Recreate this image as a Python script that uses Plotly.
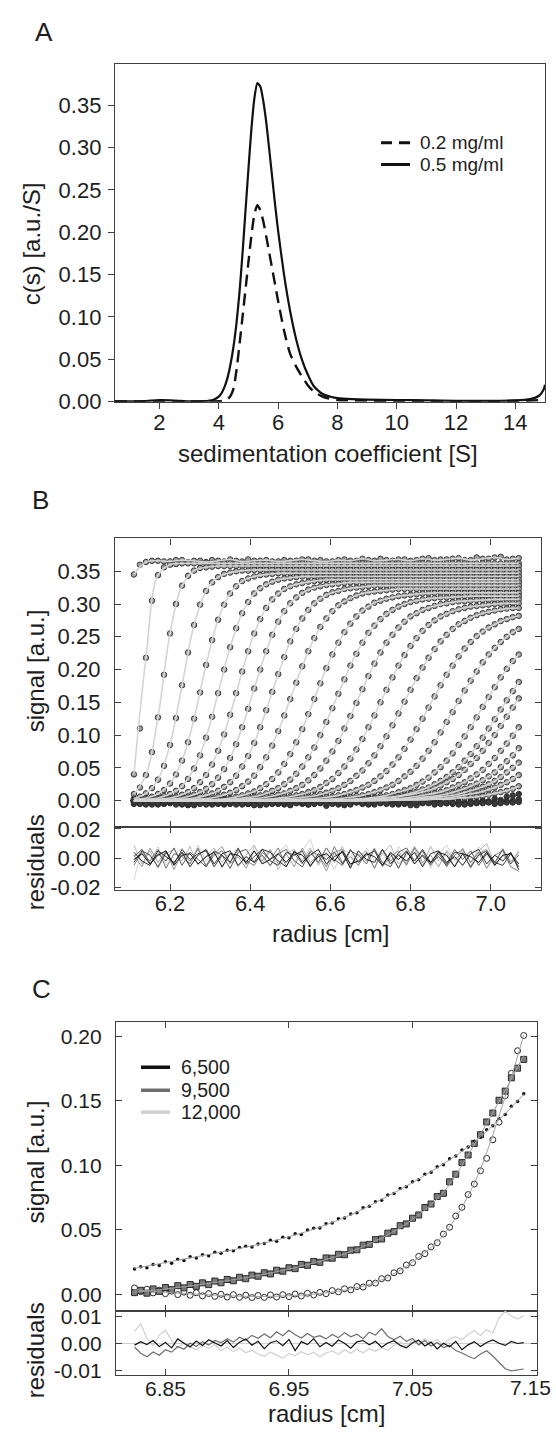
import plotly.graph_objects as go

W, H = 556, 1448
FONT = "Liberation Sans, Arial, Helvetica, sans-serif"
INK = "#1e1e1e"
AXC = "#404040"

#%% Panel A: c(s) distributions
s_value = [0.5, 1.0, 1.5, 2.0, 2.5, 3.0, 3.5, 3.8, 4.0, 4.1, 4.2, 4.3, 4.4, 4.5, 4.6, 4.7,
           4.8, 4.9, 5.0, 5.1, 5.2, 5.3, 5.4, 5.5, 5.6, 5.7, 5.8, 5.9, 6.0, 6.2, 6.4, 6.6,
           6.8, 7.0, 7.2, 7.5, 7.8, 8.0, 8.5, 9.0, 10.0, 11.0, 12.0, 13.0, 14.0, 14.5, 14.8,
           14.95, 15.0]
cs_02mg = [0.0003, 0.0003, 0.0004, 0.0008, 0.0006, 0.0002, 0.0002, 0.0003, 0.0005, 0.0008,
           0.0015, 0.0030, 0.0070, 0.0160, 0.0380, 0.0680, 0.1000, 0.1320, 0.1650, 0.1960,
           0.2210, 0.2320, 0.2260, 0.2130, 0.1950, 0.1760, 0.1570, 0.1380, 0.1190, 0.0840,
           0.0570, 0.0420, 0.0300, 0.0195, 0.0120, 0.0060, 0.0030, 0.0020, 0.0015, 0.0012,
           0.0010, 0.0008, 0.0006, 0.0006, 0.0008, 0.0012, 0.0020, 0.0030, 0.0035]
cs_05mg = [0.0005, 0.0005, 0.0008, 0.0018, 0.0014, 0.0004, 0.0006, 0.0020, 0.0060, 0.0105,
           0.0180, 0.0290, 0.0450, 0.0660, 0.0940, 0.1300, 0.1750, 0.2250, 0.2750, 0.3220,
           0.3580, 0.3760, 0.3720, 0.3550, 0.3300, 0.2980, 0.2650, 0.2320, 0.2020, 0.1500,
           0.1080, 0.0750, 0.0500, 0.0320, 0.0185, 0.0090, 0.0055, 0.0042, 0.0030, 0.0025,
           0.0020, 0.0015, 0.0010, 0.0010, 0.0015, 0.0030, 0.0070, 0.0140, 0.0200]

#%% Panel B: sedimentation velocity scans (signal vs radius)
radius_b = [6.11, 6.14, 6.17, 6.20, 6.23, 6.26, 6.29, 6.32, 6.35, 6.38, 6.41,
            6.44, 6.47, 6.50, 6.53, 6.56, 6.59, 6.62, 6.65, 6.68, 6.71, 6.74,
            6.77, 6.80, 6.83, 6.86, 6.89, 6.92, 6.95, 6.98, 7.01, 7.04, 7.07]
scan_signal = [
    [0.345, 0.364, 0.366, 0.365, 0.367, 0.366, 0.364, 0.366, 0.368, 0.365, 0.366,
     0.367, 0.365, 0.366, 0.368, 0.366, 0.365, 0.367, 0.366, 0.369, 0.366, 0.367,
     0.368, 0.366, 0.369, 0.367, 0.368, 0.370, 0.367, 0.369, 0.371, 0.368, 0.370],
    [0.040, 0.218, 0.344, 0.360, 0.362, 0.362, 0.362, 0.362, 0.362, 0.362, 0.362,
     0.362, 0.362, 0.362, 0.362, 0.362, 0.362, 0.362, 0.362, 0.362, 0.362, 0.362,
     0.362, 0.362, 0.362, 0.362, 0.362, 0.362, 0.362, 0.362, 0.362, 0.362, 0.362],
    [0.010, 0.039, 0.127, 0.255, 0.328, 0.351, 0.356, 0.358, 0.358, 0.358, 0.358,
     0.358, 0.358, 0.358, 0.358, 0.358, 0.358, 0.358, 0.358, 0.358, 0.358, 0.358,
     0.358, 0.358, 0.358, 0.358, 0.358, 0.358, 0.358, 0.358, 0.358, 0.358, 0.358],
    [0.003, 0.011, 0.032, 0.085, 0.176, 0.268, 0.320, 0.341, 0.348, 0.351, 0.352,
     0.352, 0.352, 0.352, 0.352, 0.352, 0.352, 0.352, 0.352, 0.352, 0.352, 0.352,
     0.352, 0.352, 0.352, 0.352, 0.352, 0.352, 0.352, 0.352, 0.352, 0.352, 0.352],
    [0.002, 0.004, 0.010, 0.026, 0.061, 0.125, 0.207, 0.276, 0.316, 0.335, 0.342,
     0.345, 0.347, 0.347, 0.347, 0.347, 0.347, 0.347, 0.347, 0.347, 0.347, 0.347,
     0.347, 0.347, 0.347, 0.347, 0.347, 0.347, 0.347, 0.347, 0.347, 0.347, 0.347],
    [0.001, 0.002, 0.004, 0.010, 0.022, 0.049, 0.096, 0.164, 0.234, 0.286, 0.316,
     0.330, 0.337, 0.340, 0.342, 0.342, 0.342, 0.342, 0.342, 0.342, 0.342, 0.342,
     0.342, 0.342, 0.342, 0.342, 0.342, 0.342, 0.342, 0.342, 0.342, 0.342, 0.342],
    [0, 0.001, 0.002, 0.004, 0.009, 0.019, 0.039, 0.076, 0.131, 0.197, 0.255,
     0.294, 0.316, 0.327, 0.332, 0.335, 0.337, 0.337, 0.337, 0.337, 0.337, 0.337,
     0.337, 0.337, 0.337, 0.337, 0.337, 0.337, 0.337, 0.337, 0.337, 0.337, 0.337],
    [0, 0, 0.001, 0.002, 0.004, 0.009, 0.018, 0.035, 0.065, 0.112, 0.171,
     0.228, 0.273, 0.301, 0.317, 0.325, 0.329, 0.331, 0.333, 0.333, 0.333, 0.333,
     0.333, 0.333, 0.333, 0.333, 0.333, 0.333, 0.333, 0.333, 0.333, 0.333, 0.333],
    [0, 0, 0.001, 0.001, 0.002, 0.004, 0.008, 0.015, 0.028, 0.052, 0.088,
     0.138, 0.193, 0.243, 0.278, 0.301, 0.314, 0.320, 0.324, 0.326, 0.328, 0.328,
     0.328, 0.328, 0.328, 0.328, 0.328, 0.328, 0.328, 0.328, 0.328, 0.328, 0.328],
    [0, 0, 0, 0, 0.001, 0.002, 0.003, 0.006, 0.012, 0.022, 0.038,
     0.066, 0.106, 0.155, 0.205, 0.248, 0.278, 0.298, 0.309, 0.316, 0.319, 0.321,
     0.323, 0.323, 0.323, 0.323, 0.323, 0.323, 0.323, 0.323, 0.323, 0.323, 0.323],
    [0, 0, 0, 0, 0, 0.001, 0.001, 0.002, 0.004, 0.008, 0.014,
     0.025, 0.043, 0.071, 0.109, 0.155, 0.202, 0.241, 0.270, 0.290, 0.302, 0.308,
     0.312, 0.314, 0.316, 0.317, 0.317, 0.317, 0.317, 0.317, 0.317, 0.317, 0.317],
    [0, 0, 0, 0, 0, 0, 0.001, 0.001, 0.002, 0.004, 0.006,
     0.011, 0.019, 0.032, 0.052, 0.081, 0.120, 0.163, 0.206, 0.241, 0.267, 0.285,
     0.296, 0.303, 0.307, 0.309, 0.310, 0.311, 0.312, 0.312, 0.312, 0.312, 0.312],
    [0, 0, 0, 0, 0, 0, 0, 0.001, 0.001, 0.002, 0.003,
     0.005, 0.009, 0.015, 0.024, 0.039, 0.061, 0.091, 0.129, 0.170, 0.209, 0.241,
     0.264, 0.281, 0.291, 0.297, 0.301, 0.304, 0.305, 0.306, 0.307, 0.307, 0.307],
    [0, 0, 0, 0, 0, 0, 0, 0, 0, 0.001, 0.001,
     0.002, 0.004, 0.006, 0.010, 0.016, 0.027, 0.042, 0.064, 0.094, 0.130, 0.169,
     0.206, 0.236, 0.259, 0.275, 0.285, 0.292, 0.296, 0.298, 0.300, 0.301, 0.301],
    [0, 0, 0, 0, 0, 0, 0, 0, 0, 0, 0.001,
     0.001, 0.002, 0.003, 0.005, 0.007, 0.012, 0.019, 0.030, 0.046, 0.069, 0.098,
     0.133, 0.169, 0.203, 0.231, 0.253, 0.269, 0.279, 0.286, 0.290, 0.293, 0.294],
    [0, 0, 0, 0, 0, 0, 0, 0, 0, 0, 0,
     0, 0.001, 0.001, 0.002, 0.003, 0.005, 0.008, 0.013, 0.020, 0.030, 0.045,
     0.066, 0.093, 0.125, 0.159, 0.192, 0.220, 0.242, 0.258, 0.269, 0.277, 0.282],
    [0, 0, 0, 0, 0, 0, 0, 0, 0, 0, 0,
     0, 0, 0.001, 0.001, 0.001, 0.002, 0.003, 0.005, 0.008, 0.013, 0.020,
     0.030, 0.044, 0.064, 0.089, 0.120, 0.152, 0.183, 0.211, 0.233, 0.250, 0.262],
    [0, 0, 0, 0, 0, 0, 0, 0, 0, 0, 0,
     0, 0, 0, 0, 0.001, 0.001, 0.001, 0.002, 0.003, 0.005, 0.008,
     0.013, 0.019, 0.029, 0.043, 0.061, 0.085, 0.112, 0.143, 0.173, 0.201, 0.223],
    [0, 0, 0, 0, 0, 0, 0, 0, 0, 0, 0,
     0, 0, 0, 0, 0, 0.001, 0.001, 0.001, 0.002, 0.003, 0.005,
     0.007, 0.011, 0.017, 0.025, 0.036, 0.051, 0.071, 0.096, 0.124, 0.153, 0.181],
    [0, 0, 0, 0, 0, 0, 0, 0, 0, 0, 0,
     0, 0, 0, 0, 0, 0, 0, 0.001, 0.002, 0.003, 0.004,
     0.006, 0.009, 0.013, 0.019, 0.028, 0.039, 0.056, 0.076, 0.100, 0.128, 0.156],
    [0, 0, 0, 0, 0, 0, 0, 0, 0, 0, 0,
     0, 0, 0, 0, 0, 0, 0, 0.001, 0.001, 0.002, 0.002,
     0.003, 0.005, 0.008, 0.011, 0.016, 0.024, 0.034, 0.047, 0.065, 0.087, 0.112],
    [0, 0, 0, 0, 0, 0, 0, 0, 0, 0, 0,
     0, 0, 0, 0, 0, 0, 0, 0, 0, 0.001, 0.001,
     0.002, 0.003, 0.005, 0.007, 0.010, 0.015, 0.022, 0.031, 0.043, 0.060, 0.080],
    [0, 0, 0, 0, 0, 0, 0, 0, 0, 0, 0,
     0, 0, 0, 0, 0, 0, 0, 0, 0, 0.001, 0.001,
     0.001, 0.002, 0.003, 0.005, 0.007, 0.010, 0.015, 0.021, 0.030, 0.043, 0.058],
    [0, 0, 0, 0, 0, 0, 0, 0, 0, 0, 0,
     0, 0, 0, 0, 0, 0, 0, 0, 0, 0, 0.001,
     0.001, 0.001, 0.002, 0.003, 0.004, 0.007, 0.010, 0.014, 0.020, 0.028, 0.039],
    [0, 0, 0, 0, 0, 0, 0, 0, 0, 0, 0,
     0, 0, 0, 0, 0, 0, 0, 0, 0, 0, 0,
     0.001, 0.001, 0.001, 0.002, 0.002, 0.004, 0.005, 0.007, 0.011, 0.015, 0.022],
    [-0.003, -0.005, -0.002, -0.004, -0.006, -0.003, -0.001, -0.004, -0.005, -0.002, -0.003,
     -0.006, -0.004, -0.002, -0.005, -0.003, -0.008, -0.004, -0.002, -0.005, -0.003, -0.004,
     -0.006, -0.002, -0.003, -0.002, -0.004, -0.002, -0.001, 0.000, 0.003, 0.006, 0.010],
    [-0.005, -0.002, -0.006, -0.003, -0.004, -0.007, -0.002, -0.005, -0.003, -0.006, -0.004,
     -0.002, -0.005, -0.007, -0.003, -0.004, -0.002, -0.006, -0.005, -0.003, -0.006, -0.002,
     -0.004, -0.005, -0.003, -0.006, -0.004, -0.003, -0.005, -0.002, -0.003, -0.001, 0.002],
    [-0.002, -0.006, -0.004, -0.001, -0.005, -0.003, -0.006, -0.004, -0.002, -0.005, -0.007,
     -0.003, -0.004, -0.006, -0.002, -0.005, -0.004, -0.003, -0.006, -0.004, -0.002, -0.005,
     -0.003, -0.007, -0.004, -0.005, -0.002, -0.006, -0.003, -0.004, -0.005, -0.003, -0.002],
]
# the same scans read at the radii half-way between the points above
radius_b_mid = [6.125, 6.155, 6.185, 6.215, 6.245, 6.275, 6.305, 6.335,
                6.365, 6.395, 6.425, 6.455, 6.485, 6.515, 6.545, 6.575,
                6.605, 6.635, 6.665, 6.695, 6.725, 6.755, 6.785, 6.815,
                6.845, 6.875, 6.905, 6.935, 6.965, 6.995, 7.025, 7.055]
scan_signal_mid = [
    [0.360, 0.366, 0.365, 0.367, 0.364, 0.366, 0.367, 0.365,
     0.366, 0.368, 0.366, 0.365, 0.367, 0.366, 0.368, 0.367,
     0.365, 0.368, 0.366, 0.367, 0.369, 0.366, 0.368, 0.367,
     0.370, 0.368, 0.369, 0.367, 0.371, 0.369, 0.372, 0.369],
    [0.110, 0.305, 0.356, 0.361, 0.362, 0.362, 0.362, 0.362,
     0.362, 0.362, 0.362, 0.362, 0.362, 0.362, 0.362, 0.362,
     0.362, 0.362, 0.362, 0.362, 0.362, 0.362, 0.362, 0.362,
     0.362, 0.362, 0.362, 0.362, 0.362, 0.362, 0.362, 0.362],
    [0.020, 0.074, 0.192, 0.300, 0.343, 0.355, 0.357, 0.358,
     0.358, 0.358, 0.358, 0.358, 0.358, 0.358, 0.358, 0.358,
     0.358, 0.358, 0.358, 0.358, 0.358, 0.358, 0.358, 0.358,
     0.358, 0.358, 0.358, 0.358, 0.358, 0.358, 0.358, 0.358],
    [0.006, 0.019, 0.053, 0.126, 0.226, 0.299, 0.333, 0.346,
     0.350, 0.351, 0.352, 0.352, 0.352, 0.352, 0.352, 0.352,
     0.352, 0.352, 0.352, 0.352, 0.352, 0.352, 0.352, 0.352,
     0.352, 0.352, 0.352, 0.352, 0.352, 0.352, 0.352, 0.352],
    [0.002, 0.006, 0.016, 0.040, 0.089, 0.165, 0.245, 0.299,
     0.327, 0.339, 0.344, 0.346, 0.347, 0.347, 0.347, 0.347,
     0.347, 0.347, 0.347, 0.347, 0.347, 0.347, 0.347, 0.347,
     0.347, 0.347, 0.347, 0.347, 0.347, 0.347, 0.347, 0.347],
    [0.001, 0.003, 0.007, 0.015, 0.033, 0.069, 0.128, 0.200,
     0.263, 0.303, 0.324, 0.334, 0.339, 0.341, 0.342, 0.342,
     0.342, 0.342, 0.342, 0.342, 0.342, 0.342, 0.342, 0.342,
     0.342, 0.342, 0.342, 0.342, 0.342, 0.342, 0.342, 0.342],
    [0, 0.001, 0.003, 0.006, 0.013, 0.028, 0.055, 0.101,
     0.164, 0.228, 0.277, 0.307, 0.323, 0.330, 0.334, 0.336,
     0.337, 0.337, 0.337, 0.337, 0.337, 0.337, 0.337, 0.337,
     0.337, 0.337, 0.337, 0.337, 0.337, 0.337, 0.337, 0.337],
    [0, 0, 0.001, 0.003, 0.006, 0.013, 0.025, 0.048,
     0.086, 0.140, 0.200, 0.253, 0.289, 0.310, 0.322, 0.327,
     0.330, 0.332, 0.333, 0.333, 0.333, 0.333, 0.333, 0.333,
     0.333, 0.333, 0.333, 0.333, 0.333, 0.333, 0.333, 0.333],
    [0, 0, 0.001, 0.001, 0.003, 0.006, 0.011, 0.021,
     0.038, 0.068, 0.112, 0.166, 0.219, 0.262, 0.291, 0.308,
     0.318, 0.323, 0.325, 0.327, 0.328, 0.328, 0.328, 0.328,
     0.328, 0.328, 0.328, 0.328, 0.328, 0.328, 0.328, 0.328],
    [0, 0, 0, 0, 0.001, 0.002, 0.005, 0.009,
     0.016, 0.029, 0.051, 0.084, 0.130, 0.180, 0.228, 0.265,
     0.289, 0.304, 0.313, 0.318, 0.320, 0.322, 0.323, 0.323,
     0.323, 0.323, 0.323, 0.323, 0.323, 0.323, 0.323, 0.323],
    [0, 0, 0, 0, 0, 0.001, 0.002, 0.003,
     0.006, 0.011, 0.019, 0.033, 0.056, 0.089, 0.132, 0.179,
     0.223, 0.257, 0.281, 0.296, 0.305, 0.310, 0.313, 0.315,
     0.316, 0.317, 0.317, 0.317, 0.317, 0.317, 0.317, 0.317],
    [0, 0, 0, 0, 0, 0, 0.001, 0.002,
     0.003, 0.005, 0.008, 0.015, 0.025, 0.041, 0.066, 0.100,
     0.141, 0.185, 0.224, 0.256, 0.277, 0.291, 0.300, 0.305,
     0.308, 0.310, 0.311, 0.312, 0.312, 0.312, 0.312, 0.312],
    [0, 0, 0, 0, 0, 0, 0, 0.001,
     0.001, 0.002, 0.004, 0.007, 0.011, 0.019, 0.031, 0.049,
     0.075, 0.110, 0.149, 0.190, 0.226, 0.253, 0.273, 0.286,
     0.294, 0.300, 0.303, 0.304, 0.306, 0.306, 0.307, 0.307],
    [0, 0, 0, 0, 0, 0, 0, 0,
     0, 0.001, 0.002, 0.003, 0.005, 0.008, 0.013, 0.021,
     0.033, 0.052, 0.078, 0.112, 0.150, 0.188, 0.222, 0.248,
     0.268, 0.281, 0.289, 0.294, 0.297, 0.299, 0.300, 0.301],
    [0, 0, 0, 0, 0, 0, 0, 0,
     0, 0, 0.001, 0.001, 0.002, 0.004, 0.006, 0.010,
     0.015, 0.024, 0.038, 0.057, 0.083, 0.115, 0.151, 0.187,
     0.218, 0.243, 0.262, 0.274, 0.283, 0.288, 0.292, 0.294],
    [0, 0, 0, 0, 0, 0, 0, 0,
     0, 0, 0, 0.001, 0.001, 0.002, 0.003, 0.004,
     0.006, 0.010, 0.016, 0.024, 0.037, 0.055, 0.079, 0.109,
     0.142, 0.176, 0.206, 0.232, 0.251, 0.264, 0.274, 0.280],
    [0, 0, 0, 0, 0, 0, 0, 0,
     0, 0, 0, 0, 0, 0.001, 0.001, 0.002,
     0.003, 0.004, 0.007, 0.010, 0.016, 0.024, 0.037, 0.053,
     0.076, 0.104, 0.135, 0.168, 0.197, 0.223, 0.242, 0.257],
    [0, 0, 0, 0, 0, 0, 0, 0,
     0, 0, 0, 0, 0, 0, 0, 0.001,
     0.001, 0.002, 0.003, 0.004, 0.007, 0.010, 0.016, 0.024,
     0.035, 0.051, 0.072, 0.098, 0.127, 0.158, 0.188, 0.213],
    [0, 0, 0, 0, 0, 0, 0, 0,
     0, 0, 0, 0, 0, 0, 0, 0,
     0.001, 0.001, 0.002, 0.003, 0.004, 0.006, 0.009, 0.014,
     0.020, 0.030, 0.043, 0.061, 0.083, 0.110, 0.139, 0.167],
    [0, 0, 0, 0, 0, 0, 0, 0,
     0, 0, 0, 0, 0, 0, 0, 0,
     0, 0, 0.001, 0.002, 0.003, 0.005, 0.007, 0.011,
     0.016, 0.023, 0.033, 0.047, 0.065, 0.088, 0.114, 0.142],
    [0, 0, 0, 0, 0, 0, 0, 0,
     0, 0, 0, 0, 0, 0, 0, 0,
     0, 0, 0, 0.001, 0.002, 0.003, 0.004, 0.006,
     0.009, 0.013, 0.020, 0.028, 0.040, 0.056, 0.076, 0.099],
    [0, 0, 0, 0, 0, 0, 0, 0,
     0, 0, 0, 0, 0, 0, 0, 0,
     0, 0, 0, 0, 0.001, 0.002, 0.003, 0.004,
     0.006, 0.008, 0.012, 0.018, 0.026, 0.037, 0.051, 0.069],
    [0, 0, 0, 0, 0, 0, 0, 0,
     0, 0, 0, 0, 0, 0, 0, 0,
     0, 0, 0, 0, 0.001, 0.001, 0.002, 0.003,
     0.004, 0.006, 0.008, 0.012, 0.018, 0.025, 0.036, 0.050],
    [0, 0, 0, 0, 0, 0, 0, 0,
     0, 0, 0, 0, 0, 0, 0, 0,
     0, 0, 0, 0, 0, 0.001, 0.001, 0.002,
     0.003, 0.004, 0.005, 0.008, 0.011, 0.017, 0.024, 0.033],
    [0, 0, 0, 0, 0, 0, 0, 0,
     0, 0, 0, 0, 0, 0, 0, 0,
     0, 0, 0, 0, 0, 0, 0.001, 0.001,
     0.001, 0.002, 0.003, 0.004, 0.006, 0.009, 0.013, 0.018],
    [-0.004, -0.002, -0.005, -0.003, -0.007, -0.002, -0.004, -0.006,
     -0.003, -0.005, -0.002, -0.004, -0.006, -0.003, -0.005, -0.002,
     -0.004, -0.007, -0.003, -0.005, -0.002, -0.004, -0.003, -0.006,
     -0.004, -0.002, -0.003, -0.005, -0.002, -0.001, 0.001, 0.008],
    [-0.003, -0.006, -0.004, -0.002, -0.005, -0.003, -0.006, -0.004,
     -0.002, -0.005, -0.007, -0.003, -0.004, -0.002, -0.006, -0.004,
     -0.003, -0.005, -0.002, -0.006, -0.004, -0.003, -0.005, -0.007,
     -0.002, -0.004, -0.005, -0.003, -0.004, -0.002, -0.002, 0.000],
    [-0.005, -0.003, -0.002, -0.006, -0.004, -0.005, -0.003, -0.002,
     -0.006, -0.004, -0.003, -0.005, -0.002, -0.004, -0.006, -0.003,
     -0.005, -0.004, -0.002, -0.005, -0.003, -0.006, -0.004, -0.002,
     -0.003, -0.005, -0.004, -0.006, -0.002, -0.003, -0.004, -0.003],
]
n_fitted_scans = 25  # the last, noisy baseline scans get no fit line

radius_b_res = [6.11, 6.13, 6.15, 6.17, 6.19, 6.21, 6.23, 6.25, 6.27, 6.29, 6.31, 6.33,
                6.35, 6.37, 6.39, 6.41, 6.43, 6.45, 6.47, 6.49, 6.51, 6.53, 6.55, 6.57,
                6.59, 6.61, 6.63, 6.65, 6.67, 6.69, 6.71, 6.73, 6.75, 6.77, 6.79, 6.81,
                6.83, 6.85, 6.87, 6.89, 6.91, 6.93, 6.95, 6.97, 6.99, 7.01, 7.03, 7.05, 7.07]
# residuals in units of 0.001
resid_b_milli = [
    [-15, 6, -3, 8, -5, 2, 7, -4, 9, -2, 5, -7, 3, 6, -5, 8, 1, -6, 4, 9, -3, 5, 13, -4, 2,
     -8, 6, 3, -5, 7, -2, 4, -6, 8, 1, -4, 6, -7, 3, 9, -2, 5, -6, 8, 2, -5, 7, -3, 4],
    [9, -4, 5, -7, 3, 6, -2, 8, -5, 1, 7, -3, 4, -6, 2, 9, -4, 5, -8, 3, 6, -2, 7, -5, 4,
     -3, 8, -6, 1, 5, -7, 3, 9, -4, 2, 6, -5, 8, -2, 4, -6, 7, -3, 5, 10, -4, 6, -2, 3],
    [2, -6, 7, -3, 5, -8, 4, -2, 6, -5, 3, 8, -4, 1, -7, 5, -2, 6, -4, 3, -6, 7, -3, 2, -9,
     4, 6, -5, 3, -2, 7, -6, 1, 5, -4, 8, -3, 2, -6, 5, -1, 4, -7, 3, 6, -5, 2, -4, 5],
    [-5, 4, -2, 6, -7, 3, 1, -4, 7, -6, 2, 5, -3, 6, -2, -5, 4, -1, 7, -6, 3, -4, 5, 2, -6,
     8, -3, 1, -5, 4, -7, 6, -2, 3, -5, 7, 1, -4, 5, -6, 2, 6, -3, 4, -7, 2, 5, -6, -9],
    [1, 6, -4, 3, -2, 7, -5, 4, -1, -6, 5, 2, -7, 4, 6, -3, 2, -5, 3, 6, -2, -6, 4, -3, 7,
     -1, -5, 5, 2, -4, 6, -3, -6, 4, 7, -2, 5, -5, 3, -4, 6, -1, 5, -5, 3, -3, 6, -4, 2],
    [-3, 5, 2, -6, 4, -4, 6, -1, 3, 5, -6, 2, -3, 7, -4, 1, 6, -2, -5, 4, 2, 5, -6, 3, -1,
     4, -4, 6, -3, 2, 5, -5, 3, -7, 4, -2, 6, -3, 1, -5, 4, 3, -6, 2, 5, -3, -5, 3, -6],
    [4, -2, -5, 5, 1, -3, 4, -6, 2, 6, -4, 3, 5, -5, 1, -3, 6, 4, -2, -6, 5, -3, 2, 6, -4,
     1, 4, -7, 5, -1, -3, 6, -4, 2, -2, 4, -6, 3, 5, -3, 1, -5, 3, 6, -4, 2, -2, 4, -8],
    [-1, 3, -4, 2, 5, -5, 2, 3, -4, 1, 4, -6, 3, 2, -3, 5, -4, -1, 3, -3, 4, 2, -5, 1, 3,
     -2, 5, -4, -2, 3, 1, -5, 4, -1, 5, -4, 2, -3, 4, 2, -6, 3, 1, -3, 4, -5, 2, 3, -4],
]
resid_b_grey = ["#d2d2d2", "#b8b8b8", "#9a9a9a", "#7c7c7c",
                "#5e5e5e", "#404040", "#262626", "#121212"]

#%% Panel C: equilibrium profiles at three rotor speeds
speed_labels = ["6,500", "9,500", "12,000"]
radius_c = [6.825, 6.830, 6.835, 6.840, 6.845, 6.850, 6.855, 6.860,
            6.865, 6.870, 6.875, 6.880, 6.885, 6.890, 6.895, 6.900,
            6.905, 6.910, 6.915, 6.920, 6.925, 6.930, 6.935, 6.940,
            6.945, 6.950, 6.955, 6.960, 6.965, 6.970, 6.975, 6.980,
            6.985, 6.990, 6.995, 7.000, 7.005, 7.010, 7.015, 7.020,
            7.025, 7.030, 7.035, 7.040, 7.045, 7.050, 7.055, 7.060,
            7.065, 7.070, 7.075, 7.080, 7.085, 7.090, 7.095, 7.100,
            7.105, 7.110, 7.115, 7.120, 7.125, 7.130, 7.135, 7.140]
signal_6500 = [0.0195, 0.0212, 0.0205, 0.0231, 0.0222, 0.0251, 0.0240, 0.0270,
               0.0262, 0.0290, 0.0281, 0.0306, 0.0298, 0.0325, 0.0318, 0.0341,
               0.0336, 0.0362, 0.0371, 0.0366, 0.0389, 0.0392, 0.0418, 0.0410,
               0.0441, 0.0438, 0.0469, 0.0462, 0.0497, 0.0512, 0.0514, 0.0546,
               0.0551, 0.0585, 0.0590, 0.0622, 0.0632, 0.0670, 0.0681, 0.0717,
               0.0729, 0.0768, 0.0780, 0.0820, 0.0833, 0.0871, 0.0888, 0.0930,
               0.0945, 0.0988, 0.1004, 0.1050, 0.1071, 0.1118, 0.1140, 0.1186,
               0.1217, 0.1275, 0.1305, 0.1362, 0.1393, 0.1457, 0.1494, 0.1553]
signal_9500 = [0.0012, 0.0030, 0.0008, 0.0041, 0.0022, 0.0052, 0.0035, 0.0066,
               0.0049, 0.0075, 0.0061, 0.0088, 0.0074, 0.0102, 0.0089, 0.0114,
               0.0104, 0.0131, 0.0120, 0.0148, 0.0139, 0.0166, 0.0157, 0.0186,
               0.0178, 0.0205, 0.0198, 0.0231, 0.0224, 0.0254, 0.0247, 0.0281,
               0.0279, 0.0309, 0.0306, 0.0341, 0.0344, 0.0380, 0.0386, 0.0423,
               0.0428, 0.0473, 0.0485, 0.0531, 0.0545, 0.0589, 0.0614, 0.0672,
               0.0699, 0.0757, 0.0782, 0.0871, 0.0930, 0.1020, 0.1079, 0.1168,
               0.1236, 0.1335, 0.1404, 0.1503, 0.1574, 0.1677, 0.1752, 0.1820]
signal_12000 = [0.0048, 0.0020, 0.0038, 0.0010, 0.0031, 0.0004, 0.0024, -0.0003,
                0.0016, -0.0008, 0.0011, -0.0013, 0.0005, -0.0017, -0.0001, -0.0022,
                -0.0004, -0.0024, -0.0008, -0.0026, -0.0010, -0.0025, -0.0006, -0.0022,
                -0.0004, -0.0019, 0.0001, -0.0014, 0.0007, -0.0006, 0.0014, 0.0004,
                0.0028, 0.0018, 0.0042, 0.0033, 0.0059, 0.0055, 0.0085, 0.0086,
                0.0120, 0.0126, 0.0166, 0.0181, 0.0226, 0.0244, 0.0293, 0.0314,
                0.0367, 0.0399, 0.0466, 0.0519, 0.0606, 0.0674, 0.0772, 0.0854,
                0.0957, 0.1053, 0.1197, 0.1333, 0.1538, 0.1712, 0.1887, 0.2005]

radius_fit_c = [6.825, 6.850, 6.875, 6.900, 6.925, 6.950, 6.975,
                7.000, 7.025, 7.050, 7.075, 7.100, 7.125, 7.140]
fit_6500 = [0.0200, 0.0245, 0.0290, 0.0335, 0.0385, 0.0445, 0.0520,
            0.0615, 0.0735, 0.0865, 0.1010, 0.1180, 0.1400, 0.1550]
fit_9500 = [0.0015, 0.0040, 0.0070, 0.0105, 0.0145, 0.0195, 0.0255,
            0.0330, 0.0435, 0.0580, 0.0790, 0.1160, 0.1580, 0.1850]
fit_12000 = [0.0035, 0.0015, 0.0000, -0.0012, -0.0018, -0.0012, 0.0005,
             0.0040, 0.0110, 0.0250, 0.0460, 0.0860, 0.1530, 0.2010]

# residuals in units of 0.001
resid_6500 = [-0.5, 0.8, -0.3, 1.2, -1.0, 0.5, -1.5, 1.8,
              0.2, -1.2, 1.0, -0.6, 1.5, 0.3, -0.8, 1.2,
              -1.4, 0.6, 1.8, -0.5, 0.9, -1.8, 0.4, 1.1,
              -0.7, 1.6, -2.5, 0.8, -0.3, 1.9, -1.1, 0.5,
              -0.9, 1.4, 0.2, -1.6, 0.7, 1.2, -0.4, 0.9,
              -1.3, 0.3, 1.1, -0.6, -1.5, 0.4, 1.3, -0.8,
              0.6, -1.9, 0.2, -1.1, 0.9, -2.2, -0.4, 0.8,
              -1.0, 0.5, 1.4, 0.2, -0.6, 0.9, 0.1, 0.4]
resid_9500 = [-1.2, -3.5, -4.8, -3.0, -4.2, -2.2, -3.1, -1.0,
              -2.0, 0.3, -1.0, 0.8, -0.5, 1.2, 0.4, 1.9,
              0.6, 2.4, 1.3, 3.1, 2.0, 3.6, 2.2, 4.4,
              3.0, 5.0, 3.3, 2.1, 3.8, 2.4, 3.0, 1.8,
              3.4, 2.2, 4.1, 2.6, 3.5, 1.9, 4.3, 3.2,
              5.6, 2.7, 1.5, 2.8, 0.9, 2.0, -0.4, 1.2,
              -0.8, 0.5, -1.4, -0.6, -2.5, -3.4, -4.6, -5.5,
              -3.8, -2.6, -4.5, -7.0, -9.2, -10.0, -9.6, -9.3]
resid_12000 = [4.5, 7.4, 2.0, -0.8, 3.2, 5.0, 1.2, -1.5,
               0.4, -0.9, -2.2, -0.6, -1.8, -0.3, -2.5, -1.2,
               -2.8, -1.6, -3.3, -2.4, -3.8, -4.6, -3.1, -4.2,
               -5.3, -3.6, -4.4, -2.9, -4.0, -3.2, -4.8, -3.4,
               -2.6, -3.9, -2.2, -3.5, -2.0, -3.3, -1.7, -2.8,
               -1.4, -2.5, -0.6, 0.8, -0.9, 1.4, 0.2, 1.9,
               0.5, 1.6, -0.4, 1.8, 2.6, 1.5, 3.4, 4.8,
               3.1, 5.2, 4.0, 9.5, 12.0, 10.2, 9.1, 10.4]
speed_colors = ["#111111", "#6e6e6e", "#d0d0d0"]


def px(x):
    return x / W


def py(y):
    return 1 - y / H


fig = go.Figure()

#%% A traces
fig.add_trace(go.Scatter(x=s_value, y=cs_05mg, mode="lines", xaxis="x", yaxis="y",
                         line=dict(color="#111111", width=2.2, shape="spline", smoothing=0.6)))
fig.add_trace(go.Scatter(x=s_value, y=cs_02mg, mode="lines", xaxis="x", yaxis="y",
                         line=dict(color="#111111", width=2.4, dash="12px,7px",
                                   shape="spline", smoothing=0.6)))

#%% B traces: data points first, fitted curves on top
for i, (sig, sig_mid) in enumerate(zip(scan_signal, scan_signal_mid)):
    fill = "#3a3a3a" if i >= n_fitted_scans else "#a0a0a0"
    for rr, vals in ((radius_b, sig), (radius_b_mid, sig_mid)):
        fig.add_trace(go.Scatter(x=rr, y=vals, mode="markers", xaxis="x2", yaxis="y2",
                                 marker=dict(size=5.5, color=fill,
                                             line=dict(color="#2a2a2a", width=0.9))))
for sig in scan_signal[:n_fitted_scans]:
    fig.add_trace(go.Scatter(x=radius_b, y=sig, mode="lines", xaxis="x2", yaxis="y2",
                             line=dict(color="#d4d4d4", width=1.6, shape="spline")))
for res, grey in zip(resid_b_milli, resid_b_grey):
    fig.add_trace(go.Scatter(x=radius_b_res, y=[v / 1000 for v in res], mode="lines",
                             xaxis="x3", yaxis="y3", line=dict(color=grey, width=1)))

#%% C traces
fig.add_trace(go.Scatter(x=radius_c, y=signal_12000, mode="markers", xaxis="x4", yaxis="y4",
                         marker=dict(symbol="circle", size=6, color="white",
                                     line=dict(color="#2a2a2a", width=1))))
fig.add_trace(go.Scatter(x=radius_c, y=signal_9500, mode="markers", xaxis="x4", yaxis="y4",
                         marker=dict(symbol="square", size=6, color="#7a7a7a",
                                     line=dict(color="#2a2a2a", width=1))))
fig.add_trace(go.Scatter(x=radius_c, y=signal_6500, mode="markers", xaxis="x4", yaxis="y4",
                         marker=dict(symbol="circle", size=3.5, color="#111111")))
for fit in (fit_6500, fit_9500, fit_12000):
    fig.add_trace(go.Scatter(x=radius_fit_c, y=fit, mode="lines", xaxis="x4", yaxis="y4",
                             line=dict(color="#a0a0a0", width=1, shape="spline")))
for res, col in zip((resid_12000, resid_9500, resid_6500), speed_colors[::-1]):
    fig.add_trace(go.Scatter(x=radius_c, y=[v / 1000 for v in res], mode="lines",
                             xaxis="x5", yaxis="y5", line=dict(color=col, width=1.2)))


def frame(ticks, mirror, **kw):
    d = dict(showline=True, linecolor=AXC, linewidth=1.3, mirror=mirror,
             ticks=ticks, ticklen=6, tickwidth=1.2, tickcolor=AXC,
             showgrid=False, zeroline=False,
             tickfont=dict(family=FONT, size=22, color=INK))
    d.update(kw)
    return d


xa_dom = [px(115), px(545)]
xb_dom = [px(115), px(540.7)]
xc_dom = [px(116), px(536.7)]
b_range = [6.0628, 7.1247]
c_range = [6.81, 7.1505]
c_ticks = [6.85, 6.95, 7.05, 7.15]
c_font = dict(family=FONT, size=21, color=INK)

fig.update_layout(
    width=W, height=H, margin=dict(l=0, r=0, t=0, b=0),
    paper_bgcolor="white", plot_bgcolor="white", showlegend=False,
    font=dict(family=FONT, color=INK),
    xaxis=frame("outside", True, domain=xa_dom, range=[0.5, 15], tick0=0, dtick=2,
                anchor="y", ticklabelstandoff=-5),
    yaxis=frame("outside", True, domain=[py(398), py(55)], range=[0, 0.3985],
                tick0=0, dtick=0.05, tickformat=".2f", anchor="x", ticklabelstandoff=2),
    xaxis2=frame("inside", "ticks", domain=xb_dom, range=b_range, tick0=6.0, dtick=0.2,
                 showticklabels=False, anchor="y2"),
    yaxis2=frame("inside", "ticks", domain=[py(830), py(537)], range=[-0.04, 0.40],
                 tickvals=[0, 0.05, 0.10, 0.15, 0.20, 0.25, 0.30, 0.35],
                 tickformat=".2f", anchor="x2", ticklabelstandoff=9),
    xaxis3=frame("inside", "ticks", domain=xb_dom, range=b_range, tick0=6.0, dtick=0.2,
                 tickformat=".1f", anchor="y3", ticklabelstandoff=-6),
    yaxis3=frame("inside", "ticks", domain=[py(894), py(830)], range=[-0.0218, 0.0215],
                 tickvals=[-0.02, 0, 0.02], ticktext=["-0.02", "0.00", "0.02"],
                 anchor="x3", ticklabelstandoff=9),
    xaxis4=frame("inside", "ticks", domain=xc_dom, range=c_range, tickvals=c_ticks,
                 showticklabels=False, anchor="y4"),
    yaxis4=frame("inside", "ticks", domain=[py(1321.7), py(1028.3)], range=[-0.0128, 0.211],
                 tickvals=[0, 0.05, 0.10, 0.15, 0.20], tickformat=".2f", tickfont=c_font,
                 anchor="x4", ticklabelstandoff=9),
    # the last label (7.15) sits at the page edge; it is written as an annotation below
    xaxis5=frame("inside", "ticks", domain=xc_dom, range=c_range, tickvals=c_ticks,
                 ticktext=["6.85", "6.95", "7.05", ""], anchor="y5",
                 tickfont=c_font, ticklabelstandoff=-5),
    yaxis5=frame("inside", "ticks", domain=[py(1386.7), py(1321.7)], range=[-0.0114, 0.0122],
                 tickvals=[-0.01, 0, 0.01], ticktext=["-0.01", "0.00", "0.01"],
                 tickfont=c_font,
                 zeroline=True, zerolinecolor="#cfcfcf", zerolinewidth=1,
                 anchor="x5", ticklabelstandoff=9),
)

#%% Text: panel letters, axis titles, legends
notes = [
    ("A", 43.5, 22.5, 26, 0), ("B", 40, 497.5, 26, 0), ("C", 41.6, 995, 26, 0),
    ("c(s) [a.u./S]", 31, 238, 24, -90),
    ("signal [a.u.]", 35, 672, 24, -90), ("residuals", 35, 866, 24, -90),
    ("signal [a.u.]", 35, 1171, 24, -90), ("residuals", 35, 1362, 24, -90),
    ("sedimentation coefficient [S]", 328, 451, 24, 0),
    ("radius [cm]", 330, 938, 24, 0), ("radius [cm]", 326, 1426, 24, 0),
]
for text, x, y, size, ang in notes:
    fig.add_annotation(text=text, x=px(x), y=py(y), xref="paper", yref="paper",
                       showarrow=False, textangle=ang, xanchor="center", yanchor="middle",
                       font=dict(family=FONT, size=size, color=INK))

fig.add_annotation(text="7.15", x=px(553), y=py(1400), xref="paper", yref="paper",
                   showarrow=False, xanchor="right", yanchor="middle",
                   font=c_font)

for text, y, dash in (("0.2 mg/ml", 135, "11px,7px"), ("0.5 mg/ml", 157, "solid")):
    fig.add_shape(type="line", xref="paper", yref="paper", x0=px(381), x1=px(410),
                  y0=py(y), y1=py(y), line=dict(color="#111111", width=3, dash=dash))
    fig.add_annotation(text=text, x=px(418), y=py(y), xref="paper", yref="paper",
                       showarrow=False, xanchor="left", yanchor="middle",
                       font=dict(family=FONT, size=19, color=INK))

for text, y, col in zip(speed_labels, (1074.3, 1097.7, 1120), speed_colors):
    fig.add_shape(type="line", xref="paper", yref="paper", x0=px(141), x1=px(170),
                  y0=py(y), y1=py(y), line=dict(color=col, width=3.5))
    fig.add_annotation(text=text, x=px(179), y=py(y), xref="paper", yref="paper",
                       showarrow=False, xanchor="left", yanchor="middle",
                       font=dict(family=FONT, size=19.5, color=INK))

fig.write_html("out.html", config={"displayModeBar": False},
               post_script="document.body.style.margin='0px';")
